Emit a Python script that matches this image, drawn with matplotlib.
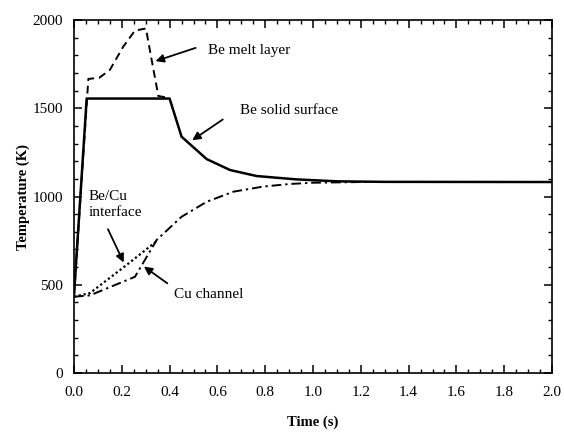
import matplotlib.pyplot as plt
from matplotlib.ticker import MultipleLocator

plt.rcParams['font.family'] = ['Liberation Serif', 'DejaVu Serif']

# Be solid surface
t_solid = [0.0, 0.053, 0.40, 0.45, 0.555, 0.653, 0.764, 0.93, 1.1, 1.3, 2.0]
T_solid = [440, 1555, 1555, 1339, 1212, 1150, 1116, 1097, 1086, 1083, 1082]

# Be melt layer
t_melt = [0.0, 0.06, 0.106, 0.15, 0.206, 0.255, 0.301, 0.325, 0.353, 0.393]
T_melt = [440, 1666, 1673, 1717, 1849, 1940, 1952, 1773, 1569, 1560]

# Be/Cu interface
t_intf = [0.0, 0.067, 0.22, 0.343]
T_intf = [432, 453, 612, 744]

# Cu channel
t_cu = [0.0, 0.067, 0.255, 0.346, 0.45, 0.555, 0.666, 0.79, 0.904, 1.0, 1.2, 2.0]
T_cu = [432, 440, 545, 754, 885, 970, 1027, 1056, 1071, 1078, 1082, 1082]

fig = plt.figure(figsize=(5.64, 4.32), dpi=100)
ax = fig.add_axes([74 / 564, 1 - 373 / 432, 478 / 564, 353 / 432])

ax.plot(t_solid, T_solid, color='black', lw=1.8, ls='-')
ax.plot(t_melt, T_melt, color='black', lw=1.4, ls=(0, (4, 2.5)))
ax.plot(t_intf, T_intf, color='black', lw=1.6, ls=(0, (1, 1.2)))
ax.plot(t_cu, T_cu, color='black', lw=1.4, ls=(0, (5, 2, 1.2, 2)))

ax.set_xlim(0, 2.0)
ax.set_ylim(0, 2000)
ax.xaxis.set_major_locator(MultipleLocator(0.2))
ax.xaxis.set_minor_locator(MultipleLocator(0.05))
ax.yaxis.set_major_locator(MultipleLocator(500))
ax.yaxis.set_minor_locator(MultipleLocator(100))
ax.xaxis.set_major_formatter(lambda v, p: f'{v:.1f}')
ax.tick_params(which='both', direction='in', top=True, right=True, labelsize=11)
ax.tick_params(which='major', length=6, width=1.1)
ax.tick_params(which='minor', length=3, width=1.0)
ax.tick_params(axis='x', pad=9)
ax.tick_params(axis='y', pad=8)
for s in ax.spines.values():
    s.set_linewidth(1.2)

ax.set_xlabel('Time (s)', fontweight='bold', fontsize=10.5, labelpad=12)
ax.set_ylabel('Temperature (K)', fontweight='bold', fontsize=10.5, labelpad=2)

arrow = dict(arrowstyle='-|>', color='black', lw=1.3, mutation_scale=12)
fs = 11
ax.annotate('', xy=(0.33, 1762), xytext=(0.52, 1847), arrowprops=arrow)
ax.text(0.56, 1830, 'Be melt layer', fontsize=fs, va='center')

ax.annotate('', xy=(0.485, 1310), xytext=(0.632, 1445), arrowprops=arrow)
ax.text(0.695, 1490, 'Be solid surface', fontsize=fs, va='center')

ax.annotate('', xy=(0.213, 612), xytext=(0.137, 829), arrowprops=arrow)
ax.text(0.06, 953, 'Be/Cu\ninterface', fontsize=fs, va='center', linespacing=1.3)

ax.annotate('', xy=(0.283, 612), xytext=(0.40, 499), arrowprops=arrow)
ax.text(0.42, 442, 'Cu channel', fontsize=fs, va='center')

fig.savefig('out.png', dpi=100)
